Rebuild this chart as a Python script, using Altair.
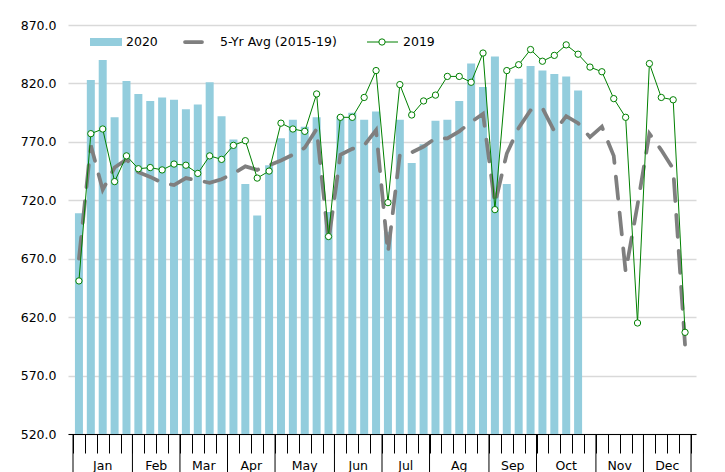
import altair as alt
import pandas as pd

# ---------------- data ----------------
weeks = list(range(1, 53))
months = ["Jan", "Feb", "Mar", "Apr", "May", "Jun", "Jul", "Ag", "Sep", "Oct", "Nov", "Dec"]
weeks_per_month = [5, 4, 4, 4, 5, 4, 4, 5, 4, 5, 4, 4]

y2020 = [709, 823, 840, 791, 822, 811, 805, 808, 806, 798, 802, 821, 792, 772,
         734, 707, 750, 773, 789, 783, 791, 710, 792, 795, 789, 796, 693, 789,
         752, 768, 788, 789, 805, 837, 817, 843, 734, 824, 835, 831, 828, 826, 814]

avg5 = [670, 767, 729, 748, 755, 744, 740, 735, 733, 739, 737, 735, 738, 743,
        749, 746, 750, 754, 759, 765, 781, 685, 759, 764, 767, 780, 675, 759,
        761, 766, 773, 773, 779, 787, 794, 717, 760, 782, 797, 799, 779, 792,
        786, 774, 783, 758, 659, 716, 777, 763, 747, 596]

y2019 = [651, 777, 781, 736, 758, 747, 748, 746, 751, 750, 743, 758, 755, 767,
         771, 739, 745, 786, 781, 779, 811, 689, 791, 791, 808, 831, 718, 819,
         793, 805, 810, 826, 826, 821, 846, 712, 831, 836, 849, 839, 844, 853,
         845, 834, 830, 807, 791, 615, 837, 808, 806, 607]

y_ticks = [520, 570, 620, 670, 720, 770, 820, 870]
legend_labels = ["2020", "5-Yr Avg (2015-19)", "2019"]

# ---------------- tables ----------------
W, H = 628, 409
FONT = "DejaVu Sans"
BLUE = "#93CDDD"
GRAY = "#7F7F7F"
GREEN = "#008000"

df_bar = pd.DataFrame({"week": weeks[:len(y2020)], "v": y2020})
df_line = pd.DataFrame({"week": weeks, "avg": avg5, "y19": y2019})

bounds = [0]
for n in weeks_per_month:
    bounds.append(bounds[-1] + n)
df_mb = pd.DataFrame({"b": bounds})
df_ml = pd.DataFrame({"m": months,
                      "c": [(bounds[i] + bounds[i + 1]) / 2 for i in range(len(months))]})

xs = alt.Scale(domain=[0, 52], nice=False, zero=False)
ys = alt.Scale(domain=[520, 870], nice=False, zero=False)

AX = alt.Axis(values=list(range(0, 53)), labels=False, title=None, grid=False,
              tickSize=19, tickColor="black", tickWidth=1,
              domainColor="black", domainWidth=1, zindex=1)
AY = alt.Axis(values=y_ticks, format=".1f", ticks=False, domain=False,
              gridColor="#d9d9d9", gridWidth=1.3, labelFontSize=12.5,
              labelFont=FONT, labelColor="black", labelPadding=12, title=None)


def X(f):
    return alt.X(f, scale=xs, axis=AX, title=None)


def Y(f):
    return alt.Y(f, scale=ys, axis=AY, title=None)


bars = alt.Chart(df_bar).transform_calculate(pos="datum.week - 0.5").mark_bar(
    color=BLUE, size=8
).encode(x=X("pos:Q"), y=Y("v:Q"), y2=alt.datum(520))

avg_line = alt.Chart(df_line).transform_calculate(pos="datum.week - 0.5").mark_line(
    color=GRAY, strokeWidth=3.75, strokeDash=[22, 14], strokeCap="round"
).encode(x=X("pos:Q"), y=Y("avg:Q"))

l2019 = alt.Chart(df_line).transform_calculate(pos="datum.week - 0.5").mark_line(
    color=GREEN, strokeWidth=1
).encode(x=X("pos:Q"), y=Y("y19:Q"))

p2019 = alt.Chart(df_line).transform_calculate(pos="datum.week - 0.5").mark_point(
    shape="circle", filled=True, fill="white", stroke=GREEN, strokeWidth=1, size=40, opacity=1
).encode(x=X("pos:Q"), y=Y("y19:Q"))

mrules = alt.Chart(df_mb).mark_rule(color="black", strokeWidth=1).encode(
    x=X("b:Q"), y=alt.value(H), y2=alt.value(H + 45))

mlabels = alt.Chart(df_ml).mark_text(
    font=FONT, fontSize=12.5, color="black", baseline="middle", align="center"
).encode(x=X("c:Q"), y=alt.value(H + 32), text="m:N")

# ---------------- manual legend ----------------
leg = pd.DataFrame({"label": legend_labels})


def only(lbl):
    return alt.Chart(leg).transform_filter(alt.datum.label == lbl)


leg_rect = only(legend_labels[0]).mark_rect(color=BLUE).encode(
    x=alt.value(22), x2=alt.value(54), y=alt.value(13), y2=alt.value(21))
leg_gray = only(legend_labels[1]).mark_rule(
    color=GRAY, strokeWidth=3.75, strokeCap="round").encode(
    x=alt.value(117), x2=alt.value(134), y=alt.value(17))
leg_green = only(legend_labels[2]).mark_rule(color=GREEN, strokeWidth=1).encode(
    x=alt.value(299), x2=alt.value(330), y=alt.value(17))
leg_pt = only(legend_labels[2]).mark_point(
    shape="circle", filled=True, fill="white", stroke=GREEN, strokeWidth=1, size=40, opacity=1
).encode(x=alt.value(314), y=alt.value(17))

txt = dict(font=FONT, fontSize=12.5, color="black", align="left", baseline="middle")
leg_t1 = only(legend_labels[0]).mark_text(**txt).encode(
    x=alt.value(58), y=alt.value(17), text="label:N")
leg_t2 = only(legend_labels[1]).mark_text(**txt).encode(
    x=alt.value(152), y=alt.value(17), text="label:N")
leg_t3 = only(legend_labels[2]).mark_text(**txt).encode(
    x=alt.value(335), y=alt.value(17), text="label:N")

chart = alt.layer(
    bars, avg_line, l2019, p2019, mrules, mlabels,
    leg_rect, leg_gray, leg_green, leg_pt, leg_t1, leg_t2, leg_t3
).properties(
    width=W, height=H,
    padding={"left": 60, "top": 17, "right": 15, "bottom": 46},
    autosize=alt.AutoSizeParams(type="none"),
    background="white",
).configure_view(stroke=None)

chart.save("out.html", embed_options={"renderer": "svg", "actions": False})
